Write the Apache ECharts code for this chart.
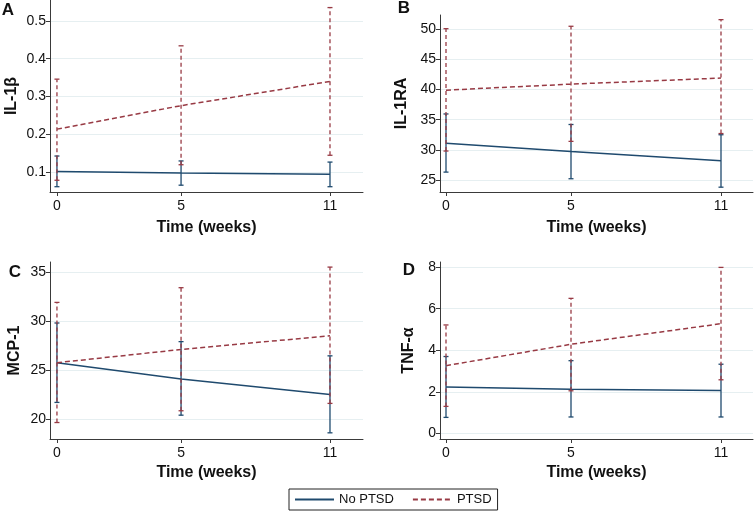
<!DOCTYPE html>
<html>
<head>
<meta charset="utf-8">
<script src="https://cdn.jsdelivr.net/npm/echarts@6/dist/echarts.min.js"></script>
<style>
html,body{margin:0;padding:0;background:#fff;}
#chart{width:754px;height:513px;}
</style>
</head>
<body>
<div id="chart"></div>
<script>
// ---- data ----
const weeks = [0, 5, 11];
const xTickValues = [0, 5, 11];
const seriesNames = ['No PTSD', 'PTSD'];

const panelLetters = ['A', 'B', 'C', 'D'];
const panelTitles = ['IL-1β', 'IL-1RA', 'MCP-1', 'TNF-α'];

const il1bNoMean = [0.102, 0.098, 0.095];
const il1bNoLow = [0.062, 0.066, 0.062];
const il1bNoHigh = [0.143, 0.130, 0.127];
const il1bPtMean = [0.214, 0.276, 0.340];
const il1bPtLow = [0.079, 0.120, 0.145];
const il1bPtHigh = [0.346, 0.434, 0.535];
const il1bTicks = [0.1, 0.2, 0.3, 0.4, 0.5];

const il1raNoMean = [31.1, 29.7, 28.2];
const il1raNoLow = [26.3, 25.2, 23.8];
const il1raNoHigh = [35.95, 34.2, 32.5];
const il1raPtMean = [39.9, 40.9, 41.9];
const il1raPtLow = [29.8, 31.4, 32.7];
const il1raPtHigh = [50.1, 50.5, 51.6];
const il1raTicks = [25, 30, 35, 40, 45, 50];

const mcp1NoMean = [25.74, 24.1, 22.5];
const mcp1NoLow = [21.7, 20.4, 18.6];
const mcp1NoHigh = [29.8, 27.9, 26.45];
const mcp1PtMean = [25.75, 27.1, 28.5];
const mcp1PtLow = [19.65, 20.85, 21.6];
const mcp1PtHigh = [31.9, 33.4, 35.5];
const mcp1Ticks = [20, 25, 30, 35];

const tnfNoMean = [2.23, 2.13, 2.06];
const tnfNoLow = [0.77, 0.79, 0.79];
const tnfNoHigh = [3.70, 3.50, 3.33];
const tnfPtMean = [3.26, 4.29, 5.28];
const tnfPtLow = [1.30, 2.05, 2.58];
const tnfPtHigh = [5.22, 6.50, 7.99];
const tnfTicks = [0, 2, 4, 6, 8];

// ---- layout / style ----
const FONT = '"Liberation Sans", Arial, Helvetica, sans-serif';
const BLUE = '#1f4a6e';
const RED = '#983a44';
const AXIS = '#3a3a3a';
const GRID = '#e6eff1';

const panels = [
  {noM: il1bNoMean, noL: il1bNoLow, noH: il1bNoHigh, ptM: il1bPtMean, ptL: il1bPtLow, ptH: il1bPtHigh, ticks: il1bTicks,
   grid: {left: 50, top: 0, width: 313, height: 192}, yMin: 0.048, yMax: 0.555, xMin: -0.28, xMax: 12.33, nameGap: 30, xNameGap: 28},
  {noM: il1raNoMean, noL: il1raNoLow, noH: il1raNoHigh, ptM: il1raPtMean, ptL: il1raPtLow, ptH: il1raPtHigh, ticks: il1raTicks,
   grid: {left: 440, top: 15, width: 313, height: 177}, yMin: 23.0, yMax: 52.37, xMin: -0.24, xMax: 12.28, nameGap: 30, xNameGap: 28},
  {noM: mcp1NoMean, noL: mcp1NoLow, noH: mcp1NoHigh, ptM: mcp1PtMean, ptL: mcp1PtLow, ptH: mcp1PtHigh, ticks: mcp1Ticks,
   grid: {left: 50, top: 262, width: 313, height: 177}, yMin: 17.97, yMax: 36.02, xMin: -0.28, xMax: 12.33, nameGap: 27, xNameGap: 26},
  {noM: tnfNoMean, noL: tnfNoLow, noH: tnfNoHigh, ptM: tnfPtMean, ptL: tnfPtLow, ptH: tnfPtHigh, ticks: tnfTicks,
   grid: {left: 440, top: 262, width: 313, height: 177}, yMin: -0.27, yMax: 8.25, xMin: -0.24, xMax: 12.28, nameGap: 23, xNameGap: 26}
];

function errRender(color, dashed) {
  return function (params, api) {
    const x = api.value(0), lo = api.value(1), hi = api.value(2);
    const a = api.coord([x, lo]);
    const b = api.coord([x, hi]);
    const w = 2.5;
    const capStyle = {stroke: color, lineWidth: 1.3};
    return {
      type: 'group',
      children: [
        {type: 'line', shape: {x1: a[0], y1: a[1], x2: b[0], y2: b[1]},
         style: {stroke: color, lineWidth: 1.3, lineDash: dashed ? [4, 3] : null}},
        {type: 'line', shape: {x1: a[0] - w, y1: a[1], x2: a[0] + w, y2: a[1]}, style: capStyle},
        {type: 'line', shape: {x1: b[0] - w, y1: b[1], x2: b[0] + w, y2: b[1]}, style: capStyle}
      ]
    };
  };
}

const grids = [], xAxes = [], yAxes = [], series = [], graphics = [];
panels.forEach((p, i) => {
  grids.push(Object.assign({containLabel: false}, p.grid));
  xAxes.push({
    type: 'value', gridIndex: i, min: p.xMin, max: p.xMax,
    name: 'Time (weeks)', nameLocation: 'middle', nameGap: p.xNameGap,
    nameTextStyle: {fontFamily: FONT, fontSize: 16, fontWeight: 'bold', color: '#111'},
    axisLine: {show: true, onZero: false, lineStyle: {color: AXIS, width: 1}},
    axisTick: {show: true, length: 4, lineStyle: {color: AXIS}, customValues: xTickValues},
    axisLabel: {fontFamily: FONT, fontSize: 14, color: '#111', margin: 7, customValues: xTickValues},
    splitLine: {show: false}
  });
  yAxes.push({
    type: 'value', gridIndex: i, min: p.yMin, max: p.yMax,
    name: panelTitles[i], nameLocation: 'middle', nameRotate: 90, nameGap: p.nameGap,
    nameTextStyle: {fontFamily: FONT, fontSize: 16, fontWeight: 'bold', color: '#111'},
    axisLine: {show: true, onZero: false, lineStyle: {color: AXIS, width: 1}},
    axisTick: {show: true, length: 4, lineStyle: {color: AXIS}, customValues: p.ticks},
    axisLabel: {fontFamily: FONT, fontSize: 14, color: '#111', margin: 4, customValues: p.ticks},
    splitLine: {show: true, lineStyle: {color: GRID, width: 1}}
  });
  const noLine = weeks.map((w, k) => [w, p.noM[k]]);
  const ptLine = weeks.map((w, k) => [w, p.ptM[k]]);
  const noErr = weeks.map((w, k) => [w, p.noL[k], p.noH[k]]);
  const ptErr = weeks.map((w, k) => [w, p.ptL[k], p.ptH[k]]);
  series.push({
    type: 'custom', name: 'No PTSD CI', xAxisIndex: i, yAxisIndex: i,
    renderItem: errRender(BLUE, false), data: noErr, encode: {x: 0, y: [1, 2]}, silent: true, z: 3
  });
  series.push({
    type: 'line', name: seriesNames[0], xAxisIndex: i, yAxisIndex: i, data: noLine,
    symbol: 'none', lineStyle: {color: BLUE, width: 1.5}, itemStyle: {color: BLUE}, silent: true, z: 4, animation: false
  });
  series.push({
    type: 'custom', name: 'PTSD CI', xAxisIndex: i, yAxisIndex: i,
    renderItem: errRender(RED, true), data: ptErr, encode: {x: 0, y: [1, 2]}, silent: true, z: 5
  });
  series.push({
    type: 'line', name: seriesNames[1], xAxisIndex: i, yAxisIndex: i, data: ptLine,
    symbol: 'none', lineStyle: {color: RED, width: 1.5, type: [5, 3]}, itemStyle: {color: RED}, silent: true, z: 6, animation: false
  });
});

const letterPos = [[8, 10], [404, 8], [15, 272], [409, 270]];
panelLetters.forEach((L, i) => {
  graphics.push({
    type: 'text', x: letterPos[i][0], y: letterPos[i][1],
    style: {text: L, fontFamily: FONT, fontSize: 17, fontWeight: 'bold', fill: '#111', align: 'center', verticalAlign: 'middle'}
  });
});

const chart = echarts.init(document.getElementById('chart'), null, {renderer: 'canvas'});
chart.setOption({
  backgroundColor: '#fff',
  animation: false,
  grid: grids,
  xAxis: xAxes,
  yAxis: yAxes,
  series: series,
  graphic: graphics,
  legend: {
    data: seriesNames,
    left: 289, top: 489,
    itemWidth: 39, itemHeight: 14, itemGap: 18,
    padding: [4, 6, 4, 5],
    borderColor: '#222', borderWidth: 1,
    itemStyle: {opacity: 0},
    textStyle: {fontFamily: FONT, fontSize: 13, color: '#111'},
    selectedMode: false
  }
});
</script>
</body>
</html>
